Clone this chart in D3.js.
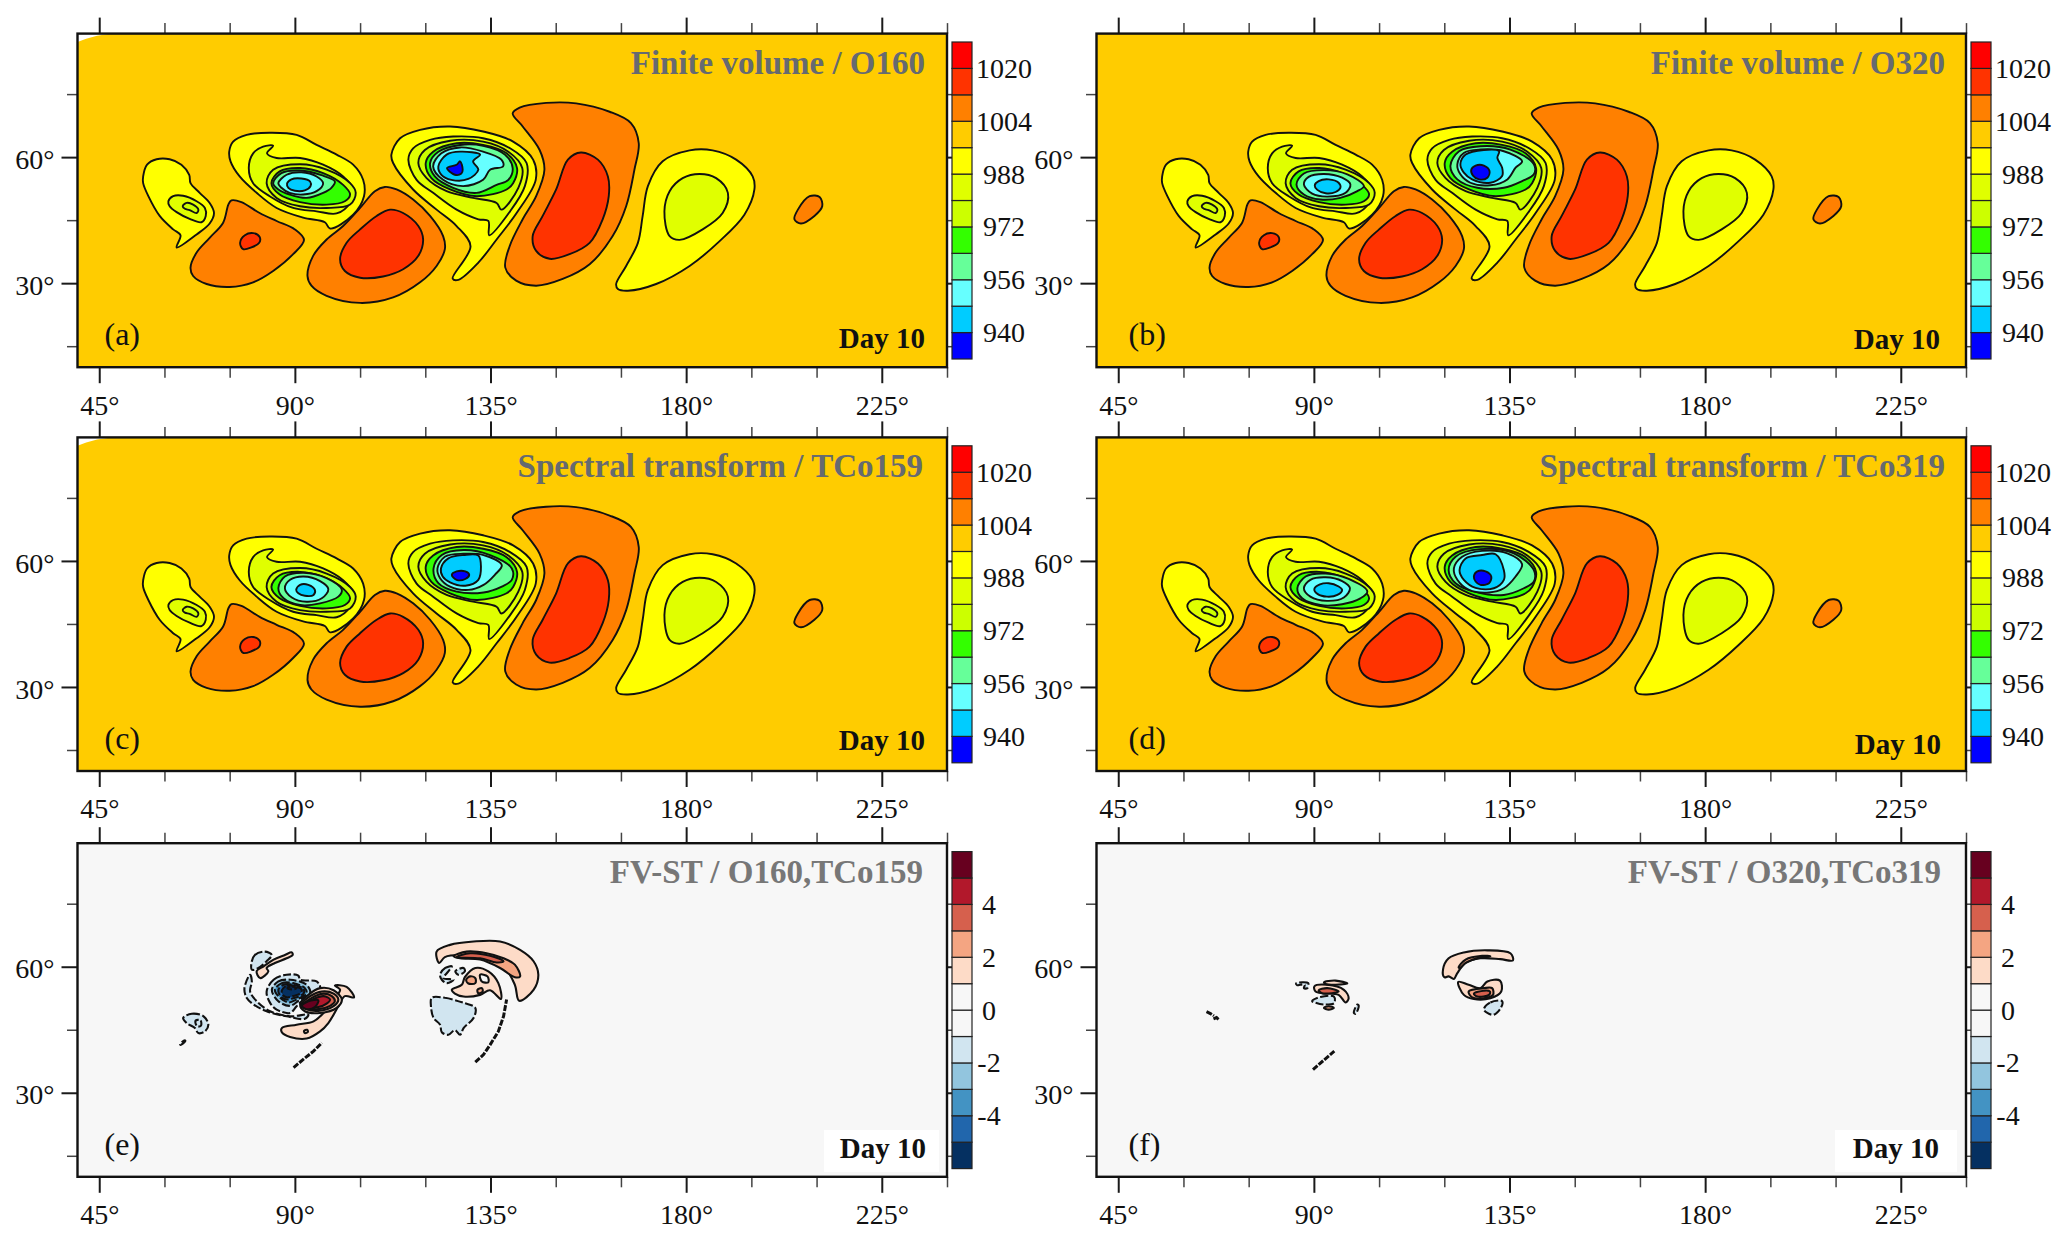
<!DOCTYPE html>
<html><head><meta charset="utf-8">
<script src="https://cdnjs.cloudflare.com/ajax/libs/d3/7.8.5/d3.min.js"></script>
<style>html,body{margin:0;background:#fff}svg{display:block}text{font-family:"Liberation Serif",serif}</style>
</head><body><svg id="c" width="2067" height="1244"></svg>
<script>
// ---- axis ticks ----
const lonMajor=[45,90,135,180,225];
const lonMinor=[60,75,105,120,150,165,195,210,240];
const latMajor=[30,60];
const latMinor=[15,45,75];
// ---- colour bars ----
const pressureBreaks=[940,948,956,964,972,980,988,996,1004,1012,1020];
const pressureColors=["#0000ff","#00ccff","#66ffff","#66ff99","#33ff00","#ccff00","#e0ff00","#ffff00","#ffcc00","#ff8000","#ff3300","#ff0000"];
const pressureLabels=[1020,1004,988,972,956,940];
const diffBreaks=[-5,-4,-3,-2,-1,0,1,2,3,4,5];
const diffColors=["#053061","#2166ac","#4393c3","#92c5de","#d1e5f0","#f7f7f7","#f7f7f7","#fddbc7","#f4a582","#d6604d","#b2182b","#67001f"];
const diffLabels=[4,2,0,-2,-4];
// ---- missing-data corner (lon,lat) ----
const cornerGap=[[40,87.4],[42,88.2],[44.5,88.9],[47.8,89.4],[40,89.4]];
// ---- contours of surface pressure (lon,lat) ----
const west996=[[55.1,55.4],[56,58.2],[58.2,59.5],[61.2,59.5],[63.9,58.2],[65.7,55.8],[66,53.8],[68.1,51.5],[70.4,49.1],[71.4,46.7],[70.4,44.2],[67.4,41.6],[62.8,38.5],[63.7,41.4],[62,42.8],[58.9,46],[56.3,50.7],[55.1,53.8]];
const west988=[[60.9,49.5],[62,50.7],[64.3,50.8],[67.4,49.5],[69.3,47.9],[69.5,46],[68.5,44.5],[65.8,45.3],[62.8,46.9],[61.2,48.3]];
const west980=[[64.2,48.3],[65.1,49.1],[66.6,48.7],[67.8,47.5],[67.4,46.7],[65.8,47.4],[64.7,47.7]];
const highB1004=[[66,33.7],[67.4,37.3],[70.4,40.8],[73.5,44.4],[74.7,48.7],[75.4,49.7],[77.7,49.3],[81.9,46.7],[85.8,44.8],[90,42.8],[92.1,40.3],[89.6,36.9],[85,32.9],[80.4,30.2],[75,29.1],[69.7,29.8],[66.6,31.7]];
const highB1012=[[77.4,39.6],[78.5,41.4],[80.4,41.9],[81.9,41],[81.8,39.6],[80,38.5],[78.1,38.1]];
const highC1004=[[92.9,31.7],[94.2,36.5],[97.3,40.4],[101.1,43.6],[105,47.9],[108.4,51.9],[110.7,52.9],[113.4,52.3],[117.2,49.9],[121.1,46],[124.1,41.2],[124.5,38.1],[122.6,34.1],[118.8,30.2],[112.6,26.6],[105,25.3],[97.3,27],[93.8,29.4]];
const highC1012=[[100.4,35.7],[101.9,39.6],[105,42.8],[108.8,46],[111.9,47.5],[114.9,46.7],[118.4,43.6],[119.5,40.4],[118.4,36.5],[114.9,33.3],[110.3,31.6],[105,31.3],[101.5,32.9]];
const highD1004=[[140.1,70.4],[141.7,71.8],[147.8,72.9],[154.7,72.8],[162.4,70.8],[167.3,68.1],[169.1,63.3],[168.1,57],[166.2,48.3],[163.1,41.2],[157.8,34.5],[151.6,31],[145.5,29.4],[140.9,30.6],[138.4,33.7],[139.4,38.8],[142.4,45.2],[145.5,50.7],[147.4,57],[146.3,61.7],[142.4,67.3]];
const highD1012=[[144.7,41.2],[147,46],[150.1,52.3],[152.8,59.4],[155.8,61.1],[159.7,59.4],[162,55.4],[162.2,50.7],[160.8,45.2],[157.8,39.6],[153.2,36.9],[148.6,35.8],[145.5,37.7]];
const lowE996=[[163.9,29.8],[166.2,34.1],[168.9,39.6],[170,46],[171.2,53.1],[174.6,59],[180.8,61.6],[186.1,61.6],[191.5,59.4],[195.3,55.4],[195.7,52.3],[193.4,46.3],[187.7,40],[180.8,34.1],[173.1,29.8],[166.6,28.2],[164.3,28.6]];
const lowE988=[[175,47.1],[176.2,51.9],[179.2,55],[183.1,56],[186.9,55],[189.6,51.5],[188.4,46.7],[183.8,42.8],[178.5,40.3],[176.2,41.2]];
const highF1004=[[204.9,45.2],[205.7,47.5],[208.4,50.7],[210.7,50.5],[211.3,48.3],[209.5,46],[206.4,44.2]];
const cyc1996=[[74.9,61.3],[75.8,63.7],[78.9,65.3],[84.2,65.8],[90.4,65.3],[95,62.9],[99.6,60.6],[103.4,58.2],[105.7,54.6],[105.9,50.7],[103.4,46.3],[98.1,43],[96.9,44.5],[91.9,45.6],[85.8,47.9],[81.2,51.5],[77.3,55.4],[75.2,59]];
const cyc1988=[[79.4,57.4],[80.4,60.9],[82.7,62.5],[85,62.7],[83.6,60.9],[85.8,59.8],[91.2,59.8],[96.5,58.2],[101.1,55.4],[103.4,52.3],[102.7,49.1],[99.6,46.6],[95,47.1],[89.6,47.9],[84.2,50.7],[80.4,53.8]];
const cyc1980=[[83.5,53.8],[85,57],[91.2,58.3],[97.3,57],[102.7,53.8],[104,51.5],[102.7,48.7],[97.3,47.9],[91.2,48.3],[85.8,50.3]];
const cyc1972=[[84.6,53.8],[86.5,56.6],[91.2,57.4],[96.5,56.2],[101.1,53.4],[102.7,51.1],[101.5,49.5],[97.3,48.7],[91.2,49.3],[86.5,51.1]];
const cyc2996=[[112.2,60.6],[114.2,64.5],[118.8,66.5],[125.7,67.3],[133.3,66.1],[140.2,63.7],[144.8,59.4],[145.4,54.6],[141,46.7],[136.4,40.4],[132.2,34.9],[127.6,30.8],[126.3,31.1],[130.4,38.8],[127.2,43.6],[122.6,47.5],[117.2,52.3],[112.6,58.6]];
const cyc2988=[[116.1,59.4],[117.2,62.1],[121.1,64.1],[126.4,64.9],[133.3,64.5],[139.5,62.1],[143.3,58.6],[142.9,53.1],[139.5,47.1],[134.7,41.4],[134.5,44.8],[132.2,45.2],[127.2,47.5],[121.8,51.5],[118,54.6]];
const cyc2980=[[118.4,58.6],[119.9,61.7],[125.7,63.9],[133.3,63.7],[139.1,61.3],[142.3,57.4],[141.4,52.7],[137.5,47.5],[136.4,49.1],[131,50.3],[124.9,51.9],[120.3,55]];
const cyc2972=[[120.1,58.6],[121.8,61.3],[127.2,63.3],[133.3,62.9],[138.7,60.9],[141.1,57.4],[140.2,53.8],[138.7,52.3],[131.8,50.7],[125.7,52.3],[121.4,55]];
// ---- eyes, one set per panel ----
const a1964=[[85,53.8],[86.9,56.2],[91.2,56.8],[96.1,55.7],[99.2,54.2],[98.4,52.7],[96.5,51.5],[92.7,50.3],[88.8,51.1],[86.2,52.3]];
const a1956=[[86.2,53.8],[88.1,55.8],[91.5,56.4],[95,55.4],[96.5,53.8],[95,51.9],[91.9,51.1],[88.8,51.5],[86.9,52.7]];
const a1948=[[88.2,53.7],[89.2,54.7],[91.5,54.9],[93.5,54.2],[93.6,53.1],[92.3,52.1],[90,52],[88.5,52.7]];
const a2964=[[121.1,58.6],[123,61.3],[128,62.9],[133.3,62.7],[138.3,60.6],[140.1,57.4],[139.1,54.6],[136.4,53.4],[131.8,51.5],[126.4,52.7],[122.2,55.4]];
const a2956=[[121.8,57.8],[123.7,60.9],[128,62.3],[133.3,61.3],[137.5,59.4],[137.9,57.8],[134.9,57],[133.3,54.6],[128.7,53.1],[124.1,54.6]];
const a2948=[[123,57.8],[124.9,60.6],[128,61.3],[132.6,60.6],[131,59],[132.2,57],[129.9,54.8],[126,54.6],[123.7,55.8]];
const a2940=[[125,57.4],[127.2,58.2],[128,59],[128.6,57],[128.3,56.1],[126.8,55.8]];
const b1964=[[86,53.5],[87.7,56.1],[92.3,56.9],[97.7,55.9],[101.5,53.1],[100,51.9],[96.1,50.3],[91.5,49.9],[87.7,51.1]];
const b1956=[[87.7,53.5],[88.8,55.3],[92.3,56],[96.5,55.1],[98.4,53.5],[97.3,51.5],[93.1,50.6],[89.6,51.3]];
const b1948=[[90.2,53.3],[91.1,54.3],[93.4,54.7],[95.7,53.9],[96.1,52.7],[95,51.7],[92.7,51.4],[90.8,52.2]];
const b2964=[[121.4,57.9],[123.4,61.4],[128.3,62.6],[135.2,61.8],[140.6,58.3],[140.6,55.9],[137.9,54.3],[133.7,52.7],[127.6,52.7],[123,54.7]];
const b2956=[[123,58.3],[124.5,61],[128.3,61.8],[133.7,61.4],[137.9,59],[136.4,57.5],[134.5,54.7],[130.6,53.3],[126,53.9],[123.7,55.9]];
const b2948=[[123.7,58.3],[124.9,60.6],[129.1,61.7],[132.6,61.4],[132.2,59.8],[133.3,57.5],[133.3,55.5],[130.6,53.9],[126.4,54.7],[124.5,56.3]];
const b2940=[[126.2,57],[127.2,58],[129.1,58],[130.4,56.7],[129.9,55.1],[128,54.7],[126.6,55.6]];
const c1964=[[86.2,53.5],[87.7,56.3],[92,57.2],[97.3,55.9],[100.8,53.1],[100,51.5],[95.8,49.9],[91.2,49.5],[87.4,51.1]];
const c1956=[[87.7,53.5],[88.9,55.5],[92,56.3],[95.8,55.2],[97.7,53.3],[96.2,51.1],[92.7,50.3],[89.3,51.3]];
const c1948=[[90.3,53.1],[91.2,54.3],[93.1,54.3],[94.6,53.1],[94.3,51.9],[92.3,51.7],[90.8,52.3]];
const c2964=[[121.9,58.2],[123.8,61.4],[128.8,62.6],[134.9,61.4],[139.9,58.2],[139.9,55.5],[137.6,53.9],[133.4,52.5],[127.2,52.7],[123,54.7]];
const c2956=[[122.8,58.2],[124.5,61],[128.8,61.7],[133.4,61.4],[137.6,59],[136,56.7],[133.4,54.3],[129.9,53.1],[125.7,53.9],[123.4,55.9]];
const c2948=[[123.6,58.2],[125.3,60.6],[128.8,61.4],[132.2,61.3],[132.8,58.6],[132.2,55.5],[129.2,54.1],[125.7,54.9],[124,56.3]];
const c2940=[[126.1,56.7],[127.2,57.5],[129.2,57.5],[130.1,56.7],[129.2,55.7],[127.2,55.5]];
const d1964=[[86.2,53.5],[88.1,56.3],[92.7,57],[98,55.7],[102.3,52.7],[100.7,51.1],[96.5,49.7],[91.5,49.5],[87.3,51.1]];
const d1956=[[87.7,53.5],[89.2,55.5],[92.7,56.1],[96.5,55.2],[98.3,53.5],[96.9,51.3],[93,50.5],[89.2,51.5]];
const d1948=[[90.1,53.3],[91.4,54.4],[93.4,54.7],[95.7,53.9],[96.5,53.1],[95.4,51.9],[93,51.5],[90.9,52.1]];
const d2964=[[121,57.8],[122.6,61],[128.3,62.8],[136,61.8],[140.6,57.8],[140.6,55.1],[138.3,53.5],[133.7,51.9],[127.6,52.5],[122.6,54.7]];
const d2956=[[122.2,58.2],[124.1,61],[128.7,62.4],[134.5,61.8],[137.9,59.2],[136.4,56.3],[133.7,53.5],[130.3,52.5],[125.7,53.1],[123,55.5]];
const d2948=[[123.5,57.8],[124.9,60.6],[128.7,61.4],[131.8,61.6],[133.7,57.8],[133.7,55.5],[131.4,53.5],[127.2,53.6],[124.5,55.5]];
const d2940=[[126.8,56.3],[127.6,57.5],[129.5,57.5],[130.8,56.3],[130.3,54.7],[128.3,54.3],[127.2,55.1]];
// ---- difference contours, panel e (lon,lat) ----
const e01=[[64.3,47.8],[66.3,48.8],[69,48.2],[70.1,46.2],[69.3,44.6],[67.8,44.2],[67,45.4],[65.1,46.6]];
const e01b=[[67.2,47.2],[68.3,47.2],[68.4,46],[67.5,45.8]];
const e02=[[63.6,41.6],[64.7,42.5],[64.8,42.3],[63.7,41.4]];
const e03=[[80.1,61.3],[80.8,62.8],[83.1,63.6],[84.7,62.8],[83.5,61.3],[81.6,59.7],[80.1,59.3]];
const e04=[[81.2,58.9],[82.8,60.1],[85.1,61.7],[87.7,62.8],[89.3,63.4],[89.5,62.8],[88.1,62],[85.4,60.9],[83.5,59.7],[83.9,58.9],[82,57.3]];
const e05=[[78.4,54.9],[79.7,58.1],[80.1,56.5],[79.7,54.1],[81.2,51.8],[84.3,49.4],[88.9,48.2],[93.1,48.6],[92.3,47.6],[88.1,48.2],[83.5,49.4],[80.5,51],[78.9,52.6]];
const e06=[[83.5,54.1],[85.1,56.9],[88.1,58.1],[90.8,57.9],[91.2,56.9],[95,56.5],[95.8,54.9],[92,52.2],[90.4,50.6],[88.9,49],[85.8,49.8],[84.3,51.4]];
const e07=[[84.7,54.5],[86.2,56.5],[88.9,56.9],[92.7,55.7],[93.5,53.7],[91.2,52.2],[88.9,50.7],[86.2,51.8]];
const e08=[[85.4,54.5],[87,56.1],[89.6,56.1],[92.3,54.9],[92.7,53.6],[90.4,52.2],[88.5,51.5],[86.6,52.6]];
const e09=[[86.2,54.5],[87.4,55.7],[89.6,55.7],[92,54.7],[92,53.6],[90,52.6],[88.1,52.2],[86.7,53]];
const e10=[[87,54.4],[88.1,55.5],[89.6,55.5],[91.6,54.5],[91.2,53.6],[89.6,53],[88.1,52.7],[87.2,53.3]];
const e10b=[[88.3,54.9],[89.2,55.3],[90.4,54.9],[89.4,54.6]];
const e11=[[87,45.4],[90.4,46.2],[94.3,47],[96.6,49],[98.9,52.2],[100.4,54.5],[99.2,55.5],[101.9,55.2],[103.6,52.7],[101.5,53],[100,50.6],[97.7,46.6],[95.8,44.6],[92.7,42.9],[88.9,43.3],[87,44.4]];
const e11b=[[92.1,44.7],[92.8,45],[93,44.5],[92.3,44.2]];
const e12=[[91.2,51],[93.1,53.3],[95.8,54.9],[98.9,54.4],[100.8,52.2],[99.6,50.2],[95.8,49],[92.3,49.4]];
const e13=[[91.6,51],[93.5,53],[96.2,54.1],[98.9,53.6],[100,52.2],[98.9,50.6],[95.4,49.5],[92.7,49.9]];
const e14=[[92,51],[93.9,52.6],[96.6,53.6],[98.5,53],[99.2,51.8],[98.1,50.7],[95.4,49.9],[93.1,50.2]];
const e15=[[92.7,51.2],[94.3,52.3],[96.6,53],[98.1,52.2],[97.3,51.2],[95.4,50.4],[93.5,50.4]];
const e16=[[91.6,50.7],[93.1,51.8],[95.4,52],[94.6,50.4],[92.7,49.9]];
const e18=[[122.6,63.6],[125.7,65.2],[131.1,66],[137.2,66],[141.8,64],[144.9,61.3],[146,58.1],[144.9,54.5],[141.6,51.9],[140.6,55.7],[138,60.1],[133.4,62],[128,62.8],[124.5,62.3],[123.2,60.9]];
const e19=[[126.5,62.5],[129.5,63.6],[134.1,63.2],[138,62],[140.6,60.5],[141.8,57.7],[140.6,57.5],[137.2,59.7],[132.6,61.7],[128,62]];
const e20=[[127.2,62.3],[130.3,63.2],[134.9,62.6],[138,61.3],[136.4,61],[132.6,62]];
const e21=[[126.1,54.5],[128.4,55.7],[129.1,57.5],[131.5,59.7],[134.5,58.9],[136.8,56.1],[137.4,52.3],[134.9,54.4],[132.6,53.3],[128.8,52.9],[126.8,53.6]];
const e21hole=[[132.6,58.1],[134.3,57.7],[134.5,56.3],[133,56.5]];
const e22=[[129.4,56.9],[130.3,57.7],[131.5,57.3],[131.5,56.1],[129.9,56]];
const e23=[[132,54.5],[133,54.9],[133.2,54.1],[132.2,53.7]];
const e24=[[123.4,58.1],[124.6,59.7],[126.1,60.1],[125.3,58.9],[124.2,57.3],[126.5,56.9],[125,56.1],[123.8,56.9]];
const e25=[[126.9,58.9],[128.8,59.7],[129.1,58.9],[127.6,58.1]];
const e26=[[121.5,52.6],[124.5,52.6],[128.8,51.4],[131.5,50.2],[131.1,47.8],[128.8,45.4],[128,43.8],[126.8,44.9],[125.3,43.8],[123.8,44.4],[123.4,46.2],[121.9,47.8],[121.3,50.6]];
const eStreak1=[[89.7,36],[92,38],[94.3,39.9],[96.2,41.9]];
const eStreak2=[[131.5,37.3],[133.4,39.1],[134.9,41.4],[136.8,44.6],[138,48.2],[138.7,52.2]];
// ---- difference contours, panel f (lon,lat) ----
const f01=[[119.7,59.3],[121,62],[124.5,63.4],[129.9,63.9],[135.2,63.2],[135.8,61.5],[132.9,61.8],[128.3,62],[124.9,60.9],[123,58.5],[122.2,57.1],[121,57.7],[120,57.5]];
const f02=[[123.3,59.8],[124.9,61.7],[128.7,62.6],[130.6,62.5],[127.6,62],[124.9,60.9],[123.6,59.7]];
const f03=[[123.2,56.4],[125.6,55.7],[128.3,54.9],[129.9,56.5],[132.8,56.7],[133.1,54.1],[130.6,52.5],[126.8,52.3],[124.5,53.3]];
const f04=[[125.6,54.1],[129.1,54.9],[131,54.9],[131.2,53.3],[129.1,52.5],[126.4,52.7]];
const f05=[[126.8,53.6],[129.1,54.3],[130.5,54.1],[130.3,53.3],[127.6,52.9]];
const f06=[[129.1,49.9],[130.6,51.5],[133.3,51.8],[133.1,50.4],[131.4,48.6],[129.9,49]];
const f07=[[90.1,55.3],[93.1,55.7],[96.9,54.5],[98,52.5],[97.3,51.5],[95.7,53.3],[92.3,53.7],[90.4,54.1]];
const f08=[[91.1,54.4],[93.1,54.9],[95.7,54.1],[94.2,53.7],[91.9,53.7]];
const f09=[[92.3,56.3],[95,56.7],[97.7,56],[95,55.7],[92.7,55.9]];
const f10=[[89.6,51.8],[91.5,52.8],[94.6,52.9],[94.7,51.4],[92.3,51],[90.4,51.4]];
const f11=[[85.9,56],[87.3,56.3],[88.7,56.1],[88.5,54.9],[87.7,54.9],[87.9,55.7],[86.9,55.7],[86.2,55.6]];
const f12=[[92.3,50.2],[93.4,50.6],[94.6,50.2],[93.4,49.8]];
const f13=[[99.2,49],[100,51],[100.3,50.8],[99.6,48.8]];
const fStreak1=[[89.8,35.5],[91.1,36.7],[94.7,39.9]];
const fStreak2=[[65.3,49.3],[66.3,48.8],[67,48.3]];
const fStreak3=[[66.9,47.6],[67.6,47.9],[68.3,47.3]];
// ---- panel text ----
const panelTitles=["Finite volume / O160","Finite volume / O320","Spectral transform / TCo159","Spectral transform / TCo319","FV-ST / O160,TCo159","FV-ST / O320,TCo319"];
const panelTags=["(a)","(b)","(c)","(d)","(e)","(f)"];
const dayLabel="Day 10";

const sharedPressure=[[992,west996],[984,west988],[976,west980],[1008,highB1004],[1016,highB1012],[1008,highC1004],[1016,highC1012],[1008,highD1004],[1016,highD1012],[992,lowE996],[984,lowE988],[1008,highF1004],[992,cyc1996],[984,cyc1988],[976,cyc1980],[968,cyc1972],[992,cyc2996],[984,cyc2988],[976,cyc2980],[968,cyc2972]];
const eyeSets=[
 [[960,a1964],[952,a1956],[944,a1948],[960,a2964],[952,a2956],[944,a2948],[936,a2940]],
 [[960,b1964],[952,b1956],[944,b1948],[960,b2964],[952,b2956],[944,b2948],[936,b2940]],
 [[960,c1964],[952,c1956],[944,c1948],[960,c2964],[952,c2956],[944,c2948],[936,c2940]],
 [[960,d1964],[952,d1956],[944,d1948],[960,d2964],[952,d2956],[944,d2948],[936,d2940]]];
const diffE=[[-1.5,e01],[-1.5,e01b],[-1.5,e02],[-1.5,e03],[1.5,e04],[-1.5,e05],[-1.5,e06],[-2.5,e07],[-3.5,e08],[-4.5,e09],[-5.5,e10],[-5.5,e10b],[1.5,e11],[1.5,e11b],[1.5,e12],[2.5,e13],[3.5,e14],[4.5,e15],[5.5,e16],[1.5,e18],[2.5,e19],[3.5,e20],[1.5,e21],[0.5,e21hole],[2.5,e22],[2.5,e23],[-1.5,e24],[-1.5,e25],[-1.5,e26]];
const diffF=[[1.5,f01],[2.5,f02],[1.5,f03],[2.5,f04],[3.5,f05],[-1.5,f06],[1.5,f07],[3.5,f08],[1.5,f09],[-1.5,f10],[-1.5,f11],[2.5,f12],[-1.5,f13]];
const streaksE=[eStreak1,eStreak2], streaksF=[fStreak1,fStreak2,fStreak3];

// ---- layout ----
const W=869.5,H=333.6;
const colX=[77.5,1096.5], rowY=[33.6,437.4,843.2];
const dayDy=[-19.5,-18,-21.5,-17,-19,-19];
const dayRight=[925,1940,925,1941,926,1939];
const titleRight=[925,1945,923,1945,923,1941];
const tagX=[27,32];
const svg=d3.select("#c");
const pressureColor=d3.scaleThreshold(pressureBreaks,pressureColors);
const diffColor=d3.scaleThreshold(diffBreaks,diffColors);
const FONT=28;

panelTitles.forEach((title,i)=>{
  const col=i%2,row=Math.floor(i/2),X=colX[col],Y=rowY[row],isDiff=row===2;
  const x=d3.scaleLinear([40,240],[0,W]), y=d3.scaleLinear([10,89.4],[H,0]);
  const g=svg.append("g").attr("transform",`translate(${X},${Y})`);
  const clipId="clip"+i;
  g.append("clipPath").attr("id",clipId).append("rect").attr("width",W).attr("height",H);
  const fmt=d=>d+"\u00b0";
  const sides=[["axisBottom",x,lonMajor,lonMinor,`translate(0,${H})`,true],["axisTop",x,lonMajor,lonMinor,"",false],["axisLeft",y,latMajor,latMinor,"",true],["axisRight",y,latMajor,latMinor,`translate(${W},0)`,false]];
  sides.forEach(([fn,sc,maj,min,tr,lab])=>{
    const pad=fn==="axisBottom"?11.5:7;
    const a=g.append("g").attr("transform",tr).call(d3[fn](sc).tickValues(maj).tickSize(16).tickSizeOuter(0).tickPadding(pad).tickFormat(lab?fmt:""));
    a.select(".domain").remove();
    a.selectAll("line").attr("stroke","#1a1a1a").attr("stroke-width",2);
    a.selectAll("text").attr("font-family","Liberation Serif").attr("font-size",FONT).attr("fill","#111");
    if(fn==="axisLeft") a.selectAll("text").attr("dy","0.4em");
    const b=g.append("g").attr("transform",tr).call(d3[fn](sc).tickValues(min).tickSize(10.5).tickSizeOuter(0).tickFormat(""));
    b.select(".domain").remove();
    b.selectAll("line").attr("stroke","#444").attr("stroke-width",1.5);
  });
  const f=g.append("g").attr("clip-path",`url(#${clipId})`);
  f.append("rect").attr("width",W).attr("height",H).attr("fill",isDiff?"#f7f7f7":pressureColor(1000));
  const line=d3.line().x(d=>x(d[0])).y(d=>y(d[1])).curve(d3.curveCatmullRomClosed.alpha(0.5));
  const open=d3.line().x(d=>x(d[0])).y(d=>y(d[1])).curve(d3.curveLinear);
  if(!isDiff){
    if(i===0||i===2) f.append("path").attr("d",d3.line().x(d=>x(d[0])).y(d=>y(d[1]))(cornerGap)+"Z").attr("fill","#fff");
    sharedPressure.concat(eyeSets[i]).forEach(([v,pts])=>{
      f.append("path").attr("d",line(pts)).attr("fill",pressureColor(v)).attr("stroke","#111").attr("stroke-width",1.9);
    });
  } else {
    (i===4?diffE:diffF).forEach(([v,pts])=>{
      f.append("path").attr("d",line(pts)).attr("fill",diffColor(v)).attr("stroke","#111").attr("stroke-width",2.1)
        .attr("stroke-dasharray",v<0?"8 2.5":null);
    });
    (i===4?streaksE:streaksF).forEach(pts=>{
      f.append("path").attr("d",open(pts)).attr("fill","none").attr("stroke","#111").attr("stroke-width",3).attr("stroke-dasharray","6 1.5");
    });
  }
  g.append("rect").attr("width",W).attr("height",H).attr("fill","none").attr("stroke","#111").attr("stroke-width",2.4);
  if(isDiff) svg.append("rect").attr("x",i===4?824:1835).attr("y",1130).attr("width",i===4?115:122).attr("height",42).attr("fill","#fff");
  svg.append("text").attr("x",titleRight[i]).attr("y",Y+40).attr("text-anchor","end").attr("font-weight","bold").attr("font-size",33).attr("fill",isDiff?"#777":"#666a70").text(title);
  svg.append("text").attr("x",dayRight[i]).attr("y",Y+H+dayDy[i]).attr("text-anchor","end").attr("font-weight","bold").attr("font-size",29).attr("fill","#111").text(dayLabel);
  svg.append("text").attr("x",X+tagX[col]).attr("y",Y+H-22).attr("font-size",32).attr("fill","#111").text(panelTags[i]);
  const barTop=Y+8.4,barH=317,barX=X+W+5,barW=20;
  const lo=isDiff?-6:932,hi=isDiff?6:1028;
  const cb=d3.scaleLinear([lo,hi],[barTop+barH,barTop]);
  const br=isDiff?diffBreaks:pressureBreaks, cols=isDiff?diffColors:pressureColors;
  const edges=[lo,...br,hi];
  svg.append("g").selectAll("rect").data(cols).join("rect")
    .attr("x",barX).attr("width",barW)
    .attr("y",(c,k)=>cb(edges[k+1])).attr("height",(c,k)=>cb(edges[k])-cb(edges[k+1]))
    .attr("fill",d=>d).attr("stroke","#222").attr("stroke-width",1.2);
  const ax=svg.append("g").attr("transform",`translate(${barX+barW},0)`)
    .call(d3.axisRight(cb).tickValues(isDiff?diffLabels:pressureLabels).tickSize(0).tickPadding(0).tickFormat(d=>d));
  ax.select(".domain").remove();
  ax.selectAll("text").attr("font-family","Liberation Serif").attr("font-size",FONT).attr("fill","#111")
    .attr("text-anchor","middle").attr("x",isDiff?17:32);
});
</script></body></html>
